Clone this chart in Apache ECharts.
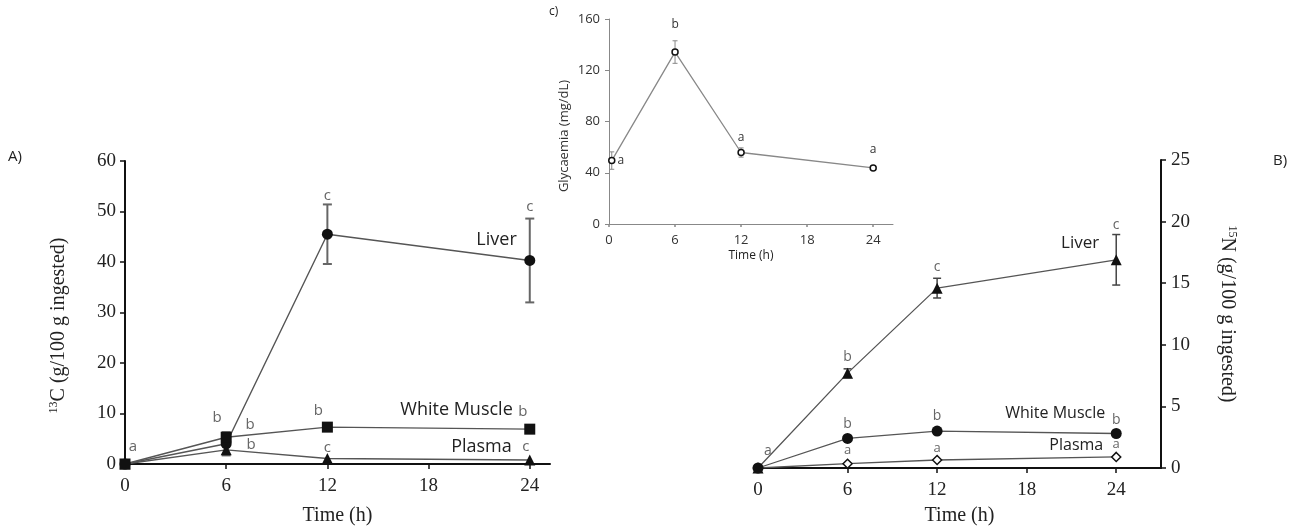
<!DOCTYPE html>
<html><head><meta charset="utf-8">
<script src="https://cdn.jsdelivr.net/npm/echarts@6/dist/echarts.min.js"></script>
<style>html,body{margin:0;padding:0;background:#fff}#c{width:1299px;height:531px}</style>
</head><body><div id="c"></div>
<script>
// ---- data ----
const hours = [0, 6, 12, 24];
const glyHours = [0.25, 6, 12, 24];
const xTicks = [0, 6, 12, 18, 24];
const aTicks = [0, 10, 20, 30, 40, 50, 60];
const bTicks = [0, 5, 10, 15, 20, 25];
const cTicks = [0, 40, 80, 120, 160];
// Panel A: 13C (g/100 g ingested)
const aLiver = [0, 4.0, 45.5, 40.3];
const aLiverErr = [0, 2.3, 5.9, 8.3];
const aMuscle = [0, 5.3, 7.3, 6.9];
const aPlasma = [0, 2.8, 1.1, 0.8];
const aLiverLetters = ['a', 'b', 'c', 'c'];
const aMuscleLetters = ['', 'b', 'b', 'b'];
const aPlasmaLetters = ['', 'b', 'c', 'c'];
// Panel B: 15N (g/100 g ingested)
const bLiver = [0, 7.7, 14.6, 16.9];
const bLiverErr = [0, 0.35, 0.8, 2.05];
const bMuscle = [0, 2.4, 3.0, 2.8];
const bPlasma = [0, 0.35, 0.65, 0.9];
const bLiverLetters = ['a', 'b', 'c', 'c'];
const bMuscleLetters = ['', 'b', 'b', 'b'];
const bPlasmaLetters = ['', 'a', 'a', 'a'];
// Panel C: Glycaemia (mg/dL)
const glycaemia = [49.5, 134.2, 55.8, 43.8];
const glycaemiaErr = [6.8, 8.8, 3.6, 0];
const glyLetters = ['a', 'b', 'a', 'a'];
const seriesNames = ['Liver', 'White Muscle', 'Plasma'];

// ---- styles ----
const SERIF = '"Liberation Serif", "DejaVu Serif", serif';
const SANS = '"Open Sans", "Noto Sans", sans-serif';
const lastIdx = hours.length - 1;

function errSeries(xi, yi, xs, ys, errs, color, cap, width) {
  const data = [];
  xs.forEach((x, i) => { if (errs[i] > 0) data.push([x, ys[i] - errs[i], ys[i] + errs[i]]); });
  return {
    type: 'custom', xAxisIndex: xi, yAxisIndex: yi, z: 3, silent: true, data,
    encode: { x: 0, y: [1, 2] },
    renderItem(params, api) {
      const lo = api.coord([api.value(0), api.value(1)]);
      const hi = api.coord([api.value(0), api.value(2)]);
      const h = cap / 2, st = { stroke: color, lineWidth: width };
      return { type: 'group', children: [
        { type: 'line', shape: { x1: lo[0], y1: lo[1], x2: hi[0], y2: hi[1] }, style: st },
        { type: 'line', shape: { x1: lo[0] - h, y1: lo[1], x2: lo[0] + h, y2: lo[1] }, style: st },
        { type: 'line', shape: { x1: hi[0] - h, y1: hi[1], x2: hi[0] + h, y2: hi[1] }, style: st }
      ] };
    }
  };
}
function textSeries(xi, yi, xs, ys, texts, offsets, font, color, align) {
  const data = [];
  xs.forEach((x, i) => { if (texts[i]) data.push([x, ys[i], i]); });
  return {
    type: 'custom', xAxisIndex: xi, yAxisIndex: yi, z: 10, silent: true, data,
    encode: { x: 0, y: 1 },
    renderItem(params, api) {
      const i = api.value(2);
      const p = api.coord([api.value(0), api.value(1)]);
      const o = offsets[i];
      return { type: 'text', x: p[0] + o[0], y: p[1] + o[1],
        style: { text: texts[i], font, fill: color, align: align || 'center', verticalAlign: 'middle' } };
    }
  };
}
function nameLabel(xi, yi, name, y, off, font) {
  const t = ['', '', '', ''];
  const o = [[0,0],[0,0],[0,0],[0,0]];
  t[lastIdx] = name; o[lastIdx] = off;
  return textSeries(xi, yi, hours, y, t, o, font, '#222', 'right');
}
function lineSeries(xi, yi, xs, ys, symbol, size, lineColor, lineW, fill, z) {
  return {
    type: 'line', xAxisIndex: xi, yAxisIndex: yi, z: z || 4,
    data: xs.map((x, i) => [x, ys[i]]),
    symbol, symbolSize: size, showAllSymbol: true, animation: false,
    lineStyle: { color: lineColor, width: lineW },
    itemStyle: { color: fill || '#111', borderColor: '#111', borderWidth: fill ? 1.5 : 0, opacity: 1 }
  };
}
function xAx(gi, max, lineColor, lineW, font, size, color, margin, nameGap, nameSize, nameFont, tickLen) {
  return {
    type: 'value', gridIndex: gi, min: 0, max, interval: 6,
    name: 'Time (h)', nameLocation: 'middle', nameGap,
    nameTextStyle: { fontFamily: nameFont, fontSize: nameSize, color: '#222' },
    axisLine: { onZero: false, lineStyle: { color: lineColor, width: lineW } },
    axisTick: { show: true, length: tickLen, customValues: xTicks, lineStyle: { color: lineColor, width: 1.5 } },
    axisLabel: { customValues: xTicks, fontFamily: font, fontSize: size, color, margin },
    splitLine: { show: false }
  };
}

const chart = echarts.init(document.getElementById('c'), null, { renderer: 'canvas' });
const sup = { fontFamily: SERIF, fontSize: 12, color: '#222', padding: [0, 0, 9, 0] };
const option = {
  animation: false,
  backgroundColor: '#fff',
  grid: [
    { left: 125, top: 161, width: 425, height: 304.5 },
    { left: 758, top: 160, width: 403, height: 309 },
    { left: 609, top: 19, width: 284, height: 205 }
  ],
  xAxis: [
    xAx(0, 25.2, '#111', 2, SERIF, 19, '#222', 13, 42, 20, SERIF, 5),
    xAx(1, 27, '#111', 2, SERIF, 19, '#222', 13, 38, 20, SERIF, 5),
    xAx(2, 25.8, '#888', 1, SANS, 13, '#333', 10, 26, 12, SANS, 3)
  ],
  yAxis: [
    { type: 'value', gridIndex: 0, min: 0, max: 60, interval: 10,
      name: '{sup|13}C (g/100 g ingested)', nameLocation: 'middle', nameGap: 56,
      nameTextStyle: { fontFamily: SERIF, fontSize: 20, color: '#222', padding: [0, 26, 0, 0], rich: { sup } },
      axisLine: { show: true, onZero: false, lineStyle: { color: '#111', width: 2 } },
      axisTick: { show: true, length: 5, lineStyle: { color: '#111', width: 1.5 } },
      axisLabel: { customValues: aTicks, fontFamily: SERIF, fontSize: 19, color: '#222', margin: 9 },
      splitLine: { show: false } },
    { type: 'value', gridIndex: 1, position: 'right', min: 0, max: 25, interval: 5,
      name: '{sup|15}N (g/100 g ingested)', nameLocation: 'middle', nameGap: 56, nameRotate: -90,
      nameTextStyle: { fontFamily: SERIF, fontSize: 20, color: '#222', rich: { sup } },
      axisLine: { show: true, onZero: false, lineStyle: { color: '#111', width: 2 } },
      axisTick: { show: true, length: 5, lineStyle: { color: '#111', width: 1.5 } },
      axisLabel: { customValues: bTicks, fontFamily: SERIF, fontSize: 19, color: '#222', margin: 10 },
      splitLine: { show: false } },
    { type: 'value', gridIndex: 2, min: 0, max: 160, interval: 40,
      name: 'Glycaemia (mg/dL)', nameLocation: 'middle', nameGap: 38,
      nameTextStyle: { fontFamily: SANS, fontSize: 13, color: '#333', padding: [0, 29, 0, 0] },
      axisLine: { show: true, onZero: false, lineStyle: { color: '#888', width: 1 } },
      axisTick: { show: true, length: 4, lineStyle: { color: '#888', width: 1 } },
      axisLabel: { customValues: cTicks, fontFamily: SANS, fontSize: 13, color: '#333', margin: 9 },
      splitLine: { show: false } }
  ],
  graphic: [
    { type: 'text', left: 8, top: 149, style: { text: 'A)', font: '15px ' + SANS, fill: '#222' } },
    { type: 'text', left: 1273, top: 153, style: { text: 'B)', font: '15px ' + SANS, fill: '#222' } },
    { type: 'text', left: 549, top: 6, style: { text: 'c)', font: '12px ' + SANS, fill: '#222' } }
  ],
  series: [
    // Panel A
    errSeries(0, 0, hours, aLiver, aLiverErr, '#666', 9, 2),
    lineSeries(0, 0, hours, aLiver, 'circle', 11, '#555', 1.4),
    lineSeries(0, 0, hours, aPlasma, 'triangle', 11, '#555', 1.4),
    lineSeries(0, 0, hours, aMuscle, 'rect', 11, '#555', 1.4),
    textSeries(0, 0, hours, aLiver, aLiverLetters, [[8,-17],[-9,-26],[0,-38],[0,-54]], '15px ' + SANS, '#666'),
    textSeries(0, 0, hours, aMuscle, aMuscleLetters, [[0,0],[24,-13],[-9,-16],[-7,-17]], '15px ' + SANS, '#666'),
    textSeries(0, 0, hours, aPlasma, aPlasmaLetters, [[0,0],[25,-5],[0,-11],[-4,-13]], '15px ' + SANS, '#666'),
    nameLabel(0, 0, seriesNames[0], aLiver, [-13, -21], '18px ' + SANS),
    nameLabel(0, 0, seriesNames[1], aMuscle, [-17, -19], '18px ' + SANS),
    nameLabel(0, 0, seriesNames[2], aPlasma, [-18, -13], '18px ' + SANS),
    // Panel B
    errSeries(1, 1, hours, bLiver, bLiverErr, '#444', 8, 1.5),
    lineSeries(1, 1, hours, bPlasma, 'diamond', 9, '#555', 1.3, '#fff'),
    lineSeries(1, 1, hours, bMuscle, 'circle', 11, '#555', 1.3),
    lineSeries(1, 1, hours, bLiver, 'triangle', 11, '#555', 1.3),
    textSeries(1, 1, hours, bLiver, bLiverLetters, [[10,-17],[0,-16],[0,-21],[0,-35]], '14px ' + SANS, '#666'),
    textSeries(1, 1, hours, bMuscle, bMuscleLetters, [[0,0],[0,-14],[0,-15],[0,-13]], '14px ' + SANS, '#666'),
    textSeries(1, 1, hours, bPlasma, bPlasmaLetters, [[0,0],[0,-13],[0,-12],[0,-13]], '13px ' + SANS, '#666'),
    nameLabel(1, 1, seriesNames[0], bLiver, [-17, -17], '17px ' + SANS),
    nameLabel(1, 1, seriesNames[1], bMuscle, [-11, -20], '16px ' + SANS),
    nameLabel(1, 1, seriesNames[2], bPlasma, [-13, -11], '16px ' + SANS),
    // Panel C
    errSeries(2, 2, glyHours, glycaemia, glycaemiaErr, '#888', 5, 1),
    lineSeries(2, 2, glyHours, glycaemia, 'circle', 6, '#888', 1.3, '#fff'),
    textSeries(2, 2, glyHours, glycaemia, glyLetters, [[9,0],[0,-27],[0,-15],[0,-18]], '12px ' + SANS, '#333')
  ]
};
chart.setOption(option);
</script>
</body></html>
